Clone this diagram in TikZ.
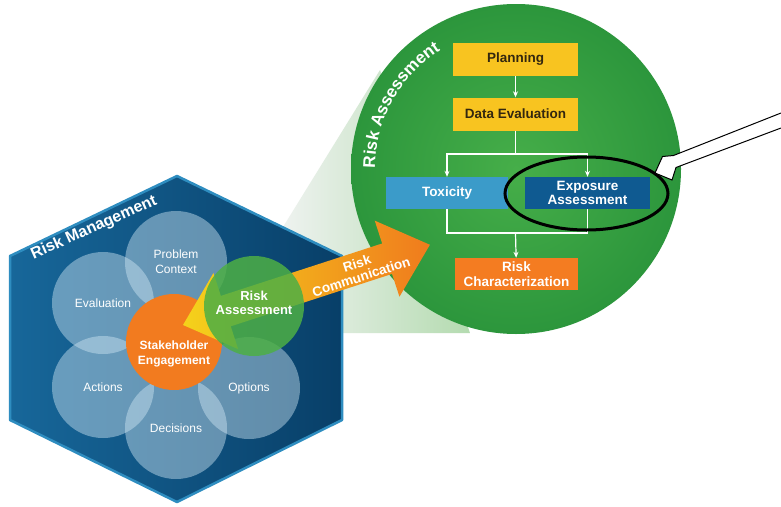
\documentclass[tikz,border=0pt]{standalone}
\usepackage{fontspec}
\setmainfont{Liberation Sans}
\usetikzlibrary{arrows.meta,shapes.geometric,decorations.text,calc}
\definecolor{hexlight}{HTML}{17679A}
\definecolor{hexdark}{HTML}{083F68}
\definecolor{hexborder}{HTML}{2E8DC0}
\definecolor{petalc}{HTML}{CFE6F3}
\definecolor{stake}{HTML}{F27B1F}
\definecolor{ragreen}{HTML}{4DAF45}
\definecolor{bigin}{HTML}{46AE49}
\definecolor{bigout}{HTML}{2C963C}
\definecolor{planc}{HTML}{F8C420}
\definecolor{toxc}{HTML}{3B9BC9}
\definecolor{expoc}{HTML}{0F5A91}
\definecolor{rcharc}{HTML}{F47C21}
\definecolor{arrY}{HTML}{F4D21B}
\definecolor{arrO}{HTML}{F5A51E}
\definecolor{arrR}{HTML}{F07B1D}
\definecolor{plantext}{HTML}{33270F}
\definecolor{beamgray}{HTML}{EEF2EF}
\definecolor{beamgreen}{HTML}{B4DBB0}
\begin{document}
\begin{tikzpicture}[x=1pt,y=-1pt,
  petal/.style={circle, minimum size=102pt, inner sep=0pt, fill=petalc, fill opacity=0.45, text opacity=1,
    text=white, align=center, font=\fontsize{12}{15}\selectfont},
  fbox/.style={rectangle, inner sep=0pt, minimum height=32pt, align=center,
    font=\fontsize{13.5}{14.5}\selectfont\bfseries},
  fline/.style={draw=white, line width=1.2pt},
  farrow/.style={fline, -{Stealth[length=6pt,width=5pt]}},
  ctext/.style={text=white, align=center, font=\fontsize{12.5}{14}\selectfont\bfseries}
]
\useasboundingbox (0,0) rectangle (781,506);
\fill[white] (0,0) rectangle (781,506);

% beam between hexagon and big circle
\shade[left color=beamgray, right color=beamgreen] (283,227) -- (380,70) -- (470,333) -- (342,333) -- (342,256) -- cycle;

% hexagon
\shade[left color=hexlight, right color=hexdark]
  (177,176) -- (342,256) -- (342,420) -- (177,502) -- (10,420) -- (10,256) -- cycle;
\draw[hexborder, line width=2.5pt, line join=round]
  (177,176) -- (342,256) -- (342,420) -- (177,502) -- (10,420) -- (10,256) -- cycle;
\node[rotate=24, text=white, font=\fontsize{16}{18}\selectfont\bfseries] (rmtitle) at (94,228) {Risk Management};

% petals
\node[petal] (pc) at (176,262) {Problem\\Context};
\node[petal] (ev) at (103,303) {Evaluation};
\node[petal] (ac) at (103,387) {Actions};
\node[petal] (de) at (176,428) {Decisions};
\node[petal] (op) at (249,388) {Options};

% stakeholder engagement
\node[circle, minimum size=96pt, inner sep=0pt, fill=stake] (se) at (174,342) {};

% big circle
\shade[inner color=bigin, outer color=bigout] (516,169) circle[radius=165];
\path[decorate, decoration={text along path, text align=center,
   text={|\fontsize{17}{20}\selectfont\bfseries\color{white}|Risk Assessment}}]
   (516,169) ++(170:141) arc[start angle=170, end angle=248, radius=141];

% double arrow risk communication
\begin{scope}[shift={(183,325)}, rotate=18]
  \shade[left color=arrY, middle color=arrO, right color=arrR]
    (0,0) -- (45,-40) -- (45,-16) -- (214.6,-16) -- (214.6,-40) -- (259.6,0)
    -- (214.6,40) -- (214.6,16) -- (45,16) -- (45,40) -- cycle;
\end{scope}
\node[rotate=18, ctext, font=\fontsize{13.5}{14}\selectfont\bfseries] (rcomm) at (359,270) {Risk\\Communication};

% risk assessment small circle
\node[circle, minimum size=100pt, inner sep=0pt, fill=ragreen, fill opacity=0.85] (ra) at (254,306) {};
\node[ctext, font=\fontsize{13}{14}\selectfont\bfseries] (ratext) at (254,303) {Risk\\Assessment};
\node[ctext, font=\fontsize{12}{15}\selectfont\bfseries] (setext) at (174,354) {Stakeholder\\Engagement};

% flowchart
\node[fbox, fill=planc, text=plantext, minimum width=125pt, minimum height=33pt] (plan) at (515.5,59.5) {Planning};
\node[fbox, fill=planc, text=plantext, minimum width=125pt, minimum height=33pt] (deval) at (515.5,114) {Data Evaluation};
\node[fbox, fill=toxc, text=white, minimum width=122pt] (tox) at (447,193) {Toxicity};
\node[fbox, fill=expoc, text=white, minimum width=125pt] (expo) at (587.5,193) {Exposure\\Assessment};
\node[fbox, fill=rcharc, text=white, minimum width=123pt] (rchar) at (516.5,274) {Risk\\Characterization};
\coordinate (j1) at (515.5,154);
\coordinate (j2) at (515.5,233);
\draw[farrow] (plan) -- (deval);
\draw[fline] (deval) -- (j1);
\draw[farrow] (j1) -| (tox.north);
\draw[farrow] (j1) -| (expo.north);
\draw[fline] (tox.south) |- (j2);
\draw[fline] (expo.south) |- (j2);
\draw[farrow] (j2) -- (rchar);

% highlight ellipse
\node[draw=black, line width=3pt, ellipse, minimum width=163pt, minimum height=73pt, inner sep=0pt] (hl) at (586.5,193.5) {};

% callout arrow
\fill[white] (781,113) -- (673.5,155.5) -- (662.5,156.5) -- (655,173) -- (672,180) -- (676,167.5) -- (781,128) -- cycle;
\draw[black, line width=1pt, line join=miter] (781,113) -- (673.5,155.5) -- (662.5,156.5) -- (655,173) -- (672,180) -- (676,167.5) -- (781,128);
\end{tikzpicture}
\end{document}
